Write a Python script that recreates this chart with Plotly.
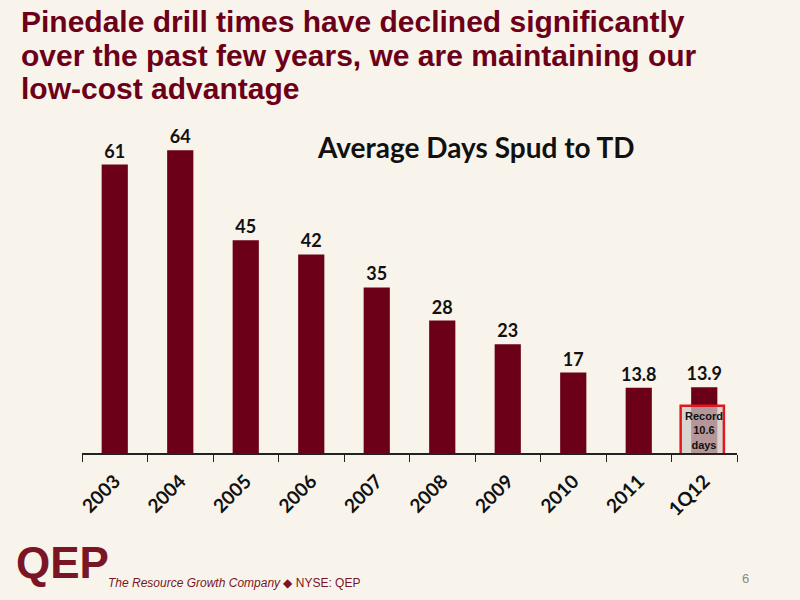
import plotly.graph_objects as go

# Data
periods = ['2003', '2004', '2005', '2006', '2007', '2008', '2009', '2010', '2011', '1Q12']
avg_days = [61, 64, 45, 42, 35, 28, 23, 17, 13.8, 13.9]
value_labels = ['61', '64', '45', '42', '35', '28', '23', '17', '13.8', '13.9']
record_days = 10.6
title_lines = ['Pinedale drill times have declined significantly',
               'over the past few years, we are maintaining our',
               'low-cost advantage']

bg = '#F8F4EB'
maroon = '#6D0019'

W, H = 800, 600
L, R, T, B = 82, 63, 130, 147


def px(x):
    return (x - L) / (W - L - R)


def py(y):
    return (H - B - y) / (H - T - B)


fig = go.Figure()
fig.add_trace(go.Bar(
    x=periods, y=avg_days, width=0.4,
    marker=dict(color=maroon, line=dict(width=0)),
    text=value_labels, textposition='outside', cliponaxis=False, constraintext='none',
    textfont=dict(family='Lato, Open Sans, sans-serif', size=18, color='#111111', weight='bold'),
))

# record box on the last bar
fig.add_shape(type='rect', xref='x', yref='y',
              x0=8.64, x1=9.3, y0=-0.6, y1=record_days - 0.6,
              fillcolor='rgba(205,202,198,0.75)', line=dict(color='#E0191E', width=2.5),
              layer='above')
fig.add_annotation(x=periods[-1], y=(record_days - 1.2) / 2, xref='x', yref='y',
                   text='<b>Record<br>10.6<br>days</b>', showarrow=False,
                   font=dict(family='Liberation Sans, Arial', size=11, color='#111111'))

# slide title, one line at a time to keep the tight spacing
for i, line in enumerate(title_lines):
    fig.add_annotation(x=px(19), y=py(22 + 33 * i), xref='paper', yref='paper',
                       xanchor='left', yanchor='middle', showarrow=False,
                       text='<b>' + line + '</b>',
                       font=dict(family='Liberation Sans, Arial', size=30, color=maroon))

fig.add_annotation(x=px(476), y=py(147), xref='paper', yref='paper',
                   xanchor='center', yanchor='middle', showarrow=False,
                   text='<b>Average Days Spud to TD</b>',
                   font=dict(family='Lato, sans-serif', size=28, color='#111111'))

# footer
fig.add_annotation(x=px(14), y=py(562), xref='paper', yref='paper',
                   xanchor='left', yanchor='middle', showarrow=False,
                   text='<b>QEP</b>',
                   font=dict(family='Liberation Sans, Arial', size=44, color='#7A1526'))
fig.add_annotation(x=px(106), y=py(583), xref='paper', yref='paper',
                   xanchor='left', yanchor='middle', showarrow=False,
                   text='<i>The Resource Growth Company</i> \u25c6 NYSE: QEP',
                   font=dict(family='Liberation Sans, Arial', size=12, color='#7A1526'))
fig.add_annotation(x=px(745), y=py(578), xref='paper', yref='paper',
                   xanchor='center', yanchor='middle', showarrow=False,
                   text='6', font=dict(family='Liberation Sans, Arial', size=13, color='#888888'))

fig.update_layout(
    width=W, height=H,
    paper_bgcolor=bg, plot_bgcolor=bg,
    margin=dict(l=L, r=R, t=T, b=B),
    showlegend=False,
    xaxis=dict(type='category', showline=True, linecolor='#222222', linewidth=1.5,
               ticks='outside', tickson='boundaries', ticklen=7, tickcolor='#222222',
               tickangle=-45, showgrid=False, ticklabelstandoff=8,
               tickfont=dict(family='Lato, Open Sans, sans-serif', size=19, color='#111111',
                             weight='bold')),
    yaxis=dict(range=[0, 68.3], visible=False, showgrid=False, zeroline=False),
)

fig.write_html('out.html', config={'displayModeBar': False},
               post_script="document.body.style.margin='0';"
                           "document.body.style.background='" + bg + "';")
